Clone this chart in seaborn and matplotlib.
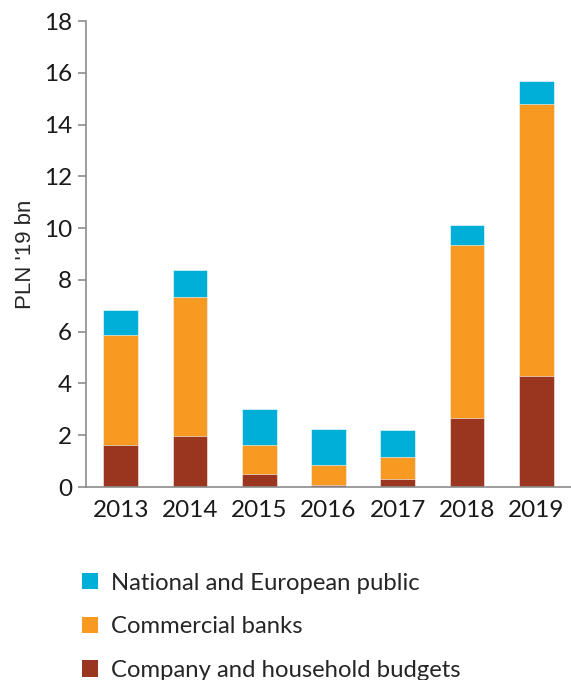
import matplotlib
matplotlib.use("Agg")
import matplotlib.pyplot as plt
import seaborn as sns
import pandas as pd
import numpy as np
from matplotlib.patches import Patch

years = ["2013", "2014", "2015", "2016", "2017", "2018", "2019"]
company_household = [1.61, 1.97, 0.50, 0.07, 0.30, 2.67, 4.27]
commercial_banks = [4.25, 5.36, 1.13, 0.78, 0.85, 6.69, 10.51]
public_funds = [0.98, 1.05, 1.38, 1.40, 1.05, 0.76, 0.90]

series_labels = ["National and European public", "Commercial banks", "Company and household budgets"]
colors = {"public": "#00AFD8", "banks": "#F89A22", "company": "#9A3520"}

sns.set_theme(style="white")
plt.rcParams["font.family"] = ["Lato", "DejaVu Sans"]

df = pd.DataFrame({
    "year": years,
    "company": company_household,
    "banks": commercial_banks,
    "public": public_funds,
})
df["lvl1"] = df["company"]
df["lvl2"] = df["company"] + df["banks"]
df["lvl3"] = df["lvl2"] + df["public"]

fig = plt.figure(figsize=(5.71, 6.8), dpi=100)
ax = fig.add_axes([0.1506, 0.2838, 0.8494, 0.6852])

# stacked bars: draw cumulative totals from the top layer down
for col, key in [("lvl3", "public"), ("lvl2", "banks"), ("lvl1", "company")]:
    sns.barplot(data=df, x="year", y=col, color=colors[key], width=0.5,
                saturation=1, edgecolor="white", linewidth=0.4, ax=ax)

ax.set_xlim(-0.5, 6.5)
ax.set_ylim(0, 18)
ax.set_yticks(np.arange(0, 19, 2))
ax.set_xlabel("")
ax.set_ylabel("PLN '19 bn", fontsize=16, family=["Liberation Sans", "DejaVu Sans"], labelpad=6)

for side in ["top", "right"]:
    ax.spines[side].set_visible(False)
for side in ["left", "bottom"]:
    ax.spines[side].set_color("#8c8c8c")
    ax.spines[side].set_linewidth(1.2)

ax.tick_params(axis="y", which="major", left=True, length=6, width=1.2, color="#8c8c8c",
               labelsize=17.5, labelcolor="#1a1a1a", pad=4)
ax.tick_params(axis="x", bottom=False, labelsize=17.5, labelcolor="#1a1a1a", pad=3)

handles = [Patch(facecolor=colors["public"], edgecolor="none"),
           Patch(facecolor=colors["banks"], edgecolor="none"),
           Patch(facecolor=colors["company"], edgecolor="none")]
fig.legend(handles, series_labels, loc="upper left", bbox_to_anchor=(0.1436, 0.158),
           frameon=False, fontsize=17.2, labelspacing=0.95, handlelength=0.67,
           handleheight=0.67, handletextpad=0.54, borderaxespad=0, borderpad=0)

fig.savefig("out.png", dpi=100)
